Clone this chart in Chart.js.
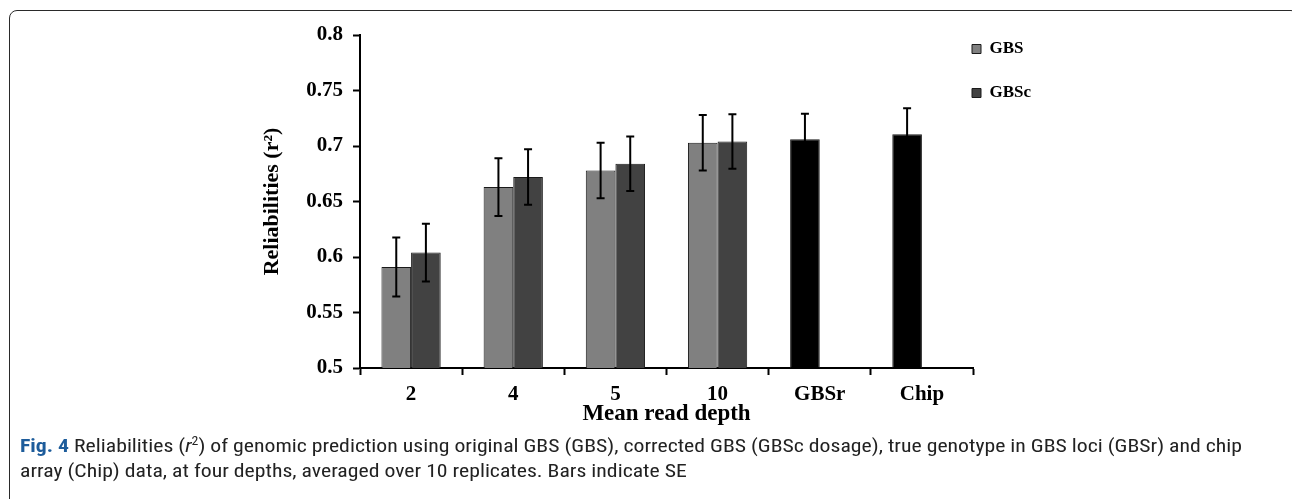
<!DOCTYPE html>
<html>
<head>
<meta charset="utf-8">
<script src="https://cdn.jsdelivr.net/npm/chart.js@4"></script>
<style>
  html, body { margin: 0; padding: 0; background: #fff; }
  body { width: 1292px; height: 499px; position: relative; overflow: hidden; }
  .frame {
    position: absolute; left: 9px; top: 10px; width: 1290px; height: 600px;
    border: 1.5px solid #2a2a2a; border-radius: 8px; box-sizing: border-box;
  }
  #wrap { position: absolute; left: 0; top: 0; width: 1292px; height: 430px; }
  .caption {
    position: absolute; left: 20px; top: 429px;
    font-family: "Liberation Sans Narrow", "Roboto Condensed", "Roboto", sans-serif;
    font-size: 19px; line-height: 25px; color: #222; white-space: nowrap;
    transform-origin: 0 0;
  }
  .caption b { color: #1d5c9b; }
</style>
</head>
<body>
<div class="frame"></div>
<div id="wrap"><canvas id="chart"></canvas></div>
<div class="caption" id="caption"><b>Fig. 4</b> Reliabilities (<i>r</i><sup style="font-size:12px">2</sup>) of genomic prediction using original GBS (GBS), corrected GBS (GBSc dosage), true genotype in GBS loci (GBSr) and chip<br>array (Chip) data, at four depths, averaged over 10 replicates. Bars indicate SE</div>
<script>
const categories = ['2', '4', '5', '10', 'GBSr', 'Chip'];
const referenceCats = ['GBSr', 'Chip'];
const gbsValues = [0.591, 0.663, 0.678, 0.703, 0.706, 0.7105];
const gbsErrors = [0.0265, 0.026, 0.025, 0.025, 0.023, 0.0235];
const gbscValues = [0.604, 0.672, 0.684, 0.704, null, null];
const gbscErrors = [0.026, 0.025, 0.0245, 0.0245, null, null];
const yTicks = [0.5, 0.55, 0.6, 0.65, 0.7, 0.75, 0.8];

Chart.defaults.font.family = '"Liberation Serif", "Times New Roman", serif';
Chart.defaults.color = '#000';

// whiskers for the SE, drawn from the y scale
const errorBars = {
  id: 'errorBars',
  afterDatasetsDraw(chart) {
    const ctx = chart.ctx;
    const y = chart.scales.y;
    ctx.save();
    ctx.strokeStyle = '#000';
    ctx.lineWidth = 2;
    chart.data.datasets.forEach((ds, i) => {
      chart.getDatasetMeta(i).data.forEach((bar, j) => {
        const v = ds.data[j];
        const e = ds.errors[j];
        if (v == null || e == null) return;
        const top = y.getPixelForValue(v + e);
        const bot = y.getPixelForValue(v - e);
        ctx.beginPath();
        ctx.moveTo(bar.x, top); ctx.lineTo(bar.x, bot);
        ctx.moveTo(bar.x - 4, top); ctx.lineTo(bar.x + 4, top);
        ctx.moveTo(bar.x - 4, bot); ctx.lineTo(bar.x + 4, bot);
        ctx.stroke();
      });
    });
    ctx.restore();
  }
};

// legend sits inside the plot, top right
const legendSpot = {
  id: 'legendSpot',
  afterLayout(chart) {
    const lg = chart.legend;
    lg.left = 945; lg.top = 13.5;
    lg.right = lg.left + 160; lg.bottom = lg.top + 120;
    lg.width = 160; lg.height = 120;
  }
};

const isRef = (ctx) => referenceCats.includes(categories[ctx.dataIndex]);

new Chart(document.getElementById('chart'), {
  type: 'bar',
  data: {
    labels: categories,
    datasets: [
      {
        label: 'GBS',
        data: gbsValues,
        errors: gbsErrors,
        backgroundColor: (ctx) => (isRef(ctx) ? '#000' : '#808080'),
        borderColor: '#1a1a1a',
        borderWidth: 1,
      },
      {
        label: 'GBSc',
        data: gbscValues,
        errors: gbscErrors,
        backgroundColor: '#424242',
        borderColor: '#1a1a1a',
        borderWidth: 1,
      },
    ],
  },
  options: {
    responsive: true,
    maintainAspectRatio: false,
    animation: false,
    categoryPercentage: 0.58,
    barPercentage: 1,
    layout: { padding: { left: 250, top: 35, right: 319, bottom: 0 } },
    plugins: {
      tooltip: { enabled: false },
      legend: {
        position: 'chartArea',
        align: 'start',
        labels: {
          boxWidth: 9,
          boxHeight: 9,
          padding: 27,
          font: { size: 17, weight: 'bold' },
        },
      },
    },
    scales: {
      x: {
        afterFit: (s) => { s.height = 62; },
        border: { color: '#000', width: 2 },
        grid: { drawOnChartArea: false, tickLength: 7, tickColor: '#000', tickWidth: 2 },
        ticks: { padding: 7, font: { size: 21, weight: 'bold' } },
        title: { display: true, text: 'Mean read depth', padding: { bottom: 2 }, font: { size: 23, weight: 'bold' } },
      },
      y: {
        min: 0.5,
        max: 0.8,
        afterFit: (s) => { s.width = 110; },
        afterBuildTicks: (s) => { s.ticks = yTicks.map((v) => ({ value: v })); },
        border: { color: '#000', width: 2 },
        grid: { drawOnChartArea: false, tickLength: 7, tickColor: '#000', tickWidth: 2 },
        ticks: { padding: 10, font: { size: 21, weight: 'bold' }, callback: (v) => String(+v.toFixed(2)) },
        title: { display: true, text: 'Reliabilities (r²)', padding: { top: 9 }, font: { size: 22, weight: 'bold' } },
      },
    },
  },
  plugins: [errorBars, legendSpot],
});

// squeeze the caption so the first line spans the frame like the figure
const cap = document.getElementById('caption');
const w = cap.getBoundingClientRect().width;
cap.style.transform = 'scaleX(' + (1222 / w) + ')';
</script>
</body>
</html>
